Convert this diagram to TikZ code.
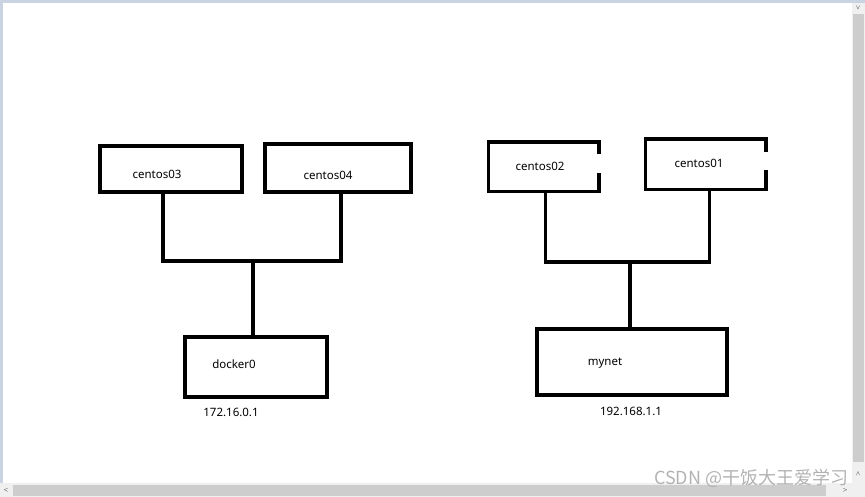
\documentclass[tikz,border=0pt]{standalone}
\usepackage{fontspec}
\setmainfont{Noto Sans}
\newfontfamily\cjk{Noto Sans CJK SC}
\usepackage{tikz}
\usetikzlibrary{calc,positioning}

\definecolor{frameblue}{HTML}{C9D3E2}
\definecolor{bargray}{HTML}{CDCDCD}
\definecolor{trackgray}{HTML}{F0F0F0}

\begin{document}
\begin{tikzpicture}[x=1pt,y=-1pt,line width=3.5pt,
    host node/.style={rectangle,draw,line width=3.5pt,inner sep=0pt},
    open node/.style={rectangle,inner sep=0pt},
    name text/.style={font=\fontsize{11.5}{13}\selectfont,inner sep=0pt},
    ip text/.style={font=\fontsize{11.5}{13}\selectfont,inner sep=0pt}]
    \useasboundingbox (0,0) rectangle (865,497);
    % window frame and scroll bars
    \fill[frameblue] (0,0) rectangle (865,3);
    \fill[frameblue] (0,0) rectangle (3,497);
    \fill[trackgray] (0,483) rectangle (865,497);
    \fill[bargray] (13,485) rectangle (826,496);
    \fill[trackgray] (852,3) rectangle (865,483);
    \fill[bargray] (853,14) rectangle (864,462);
    \node[font=\tiny,inner sep=0pt] (scrollleft) at (6,490) {$<$};
    \node[font=\tiny,inner sep=0pt] (scrollright) at (845,490) {$>$};
    \node[font=\tiny,inner sep=0pt,rotate=90] (scrollup) at (858,8) {$<$};
    \node[font=\tiny,inner sep=0pt,rotate=90] (scrolldown) at (858,474) {$>$};

    % left network
    \node[host node,minimum width=142pt,minimum height=46pt] (c03) at (171,169) {};
    \node[host node,minimum width=146pt,minimum height=48pt] (c04) at (338,168) {};
    \node[host node,minimum width=142pt,minimum height=60pt] (docker0) at (256,367) {};
    \node[name text] (c03text) at (157,174) {centos03};
    \node[name text] (c04text) at (328,175) {centos04};
    \node[name text] (docker0text) at (234,364) {docker0};
    \node[ip text] (docker0ip) at (231,412) {172.16.0.1};

    \coordinate (bus1) at (253,261);
    \draw ([xshift=-8pt]c03.south) |- (bus1) -| ([xshift=3pt]c04.south);
    \draw (docker0.north -| bus1) -- (bus1);

    % right network
    \node[open node,minimum width=107pt,minimum height=46pt] (c02) at (543.5,167) {};
    \node[open node,minimum width=117pt,minimum height=47pt] (c01) at (705.5,164.5) {};
    \node[host node,minimum width=190pt,minimum height=66pt] (mynet) at (632,362) {};
    \node[name text] (c02text) at (540,166) {centos02};
    \node[name text] (c01text) at (699,163) {centos01};
    \node[name text] (mynettext) at (605,363) {mynet};
    \node[ip text] (mynetip) at (631,411) {192.168.1.1};

    \draw ($(c02.north east)+(0,12)$) -- (c02.north east) -- (c02.north west)
        -- (c02.south west) -- (c02.south east) -- ($(c02.south east)+(0,-19)$);
    \draw ($(c01.north east)+(0,13)$) -- (c01.north east) -- (c01.north west)
        -- (c01.south west) -- (c01.south east) -- ($(c01.south east)+(0,-20)$);

    \coordinate (bus2) at (630,262);
    \draw ([xshift=2pt]c02.south) |- (bus2) -| ([xshift=4pt]c01.south);
    \draw (mynet.north -| bus2) -- (bus2);

    % watermark
    \node[font=\cjk\fontsize{18}{20}\selectfont,text=gray!60,inner sep=0pt,anchor=east] (mark) at (850,478) {CSDN @干饭大王爱学习};
\end{tikzpicture}
\end{document}
